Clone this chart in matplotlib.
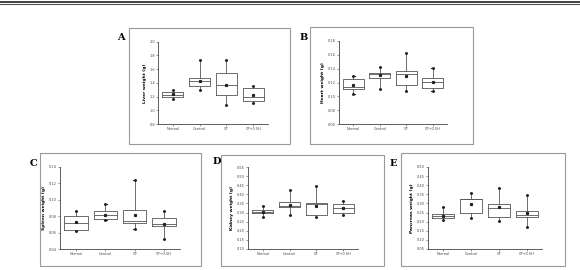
import matplotlib.pyplot as plt
from matplotlib.patches import Rectangle
from matplotlib.lines import Line2D
import numpy as np

W, H = 580, 270

groups = ['Normal', 'Control', 'CP', 'CP+0.5H']

# box stats per group: whislo, q1, med, q3, whishi, mean
liver = [[1.17, 1.19, 1.23, 1.26, 1.30, 1.24],
         [1.30, 1.36, 1.43, 1.47, 1.74, 1.43],
         [1.08, 1.22, 1.37, 1.54, 1.74, 1.37],
         [1.11, 1.13, 1.19, 1.32, 1.36, 1.23]]
heart = [[0.104, 0.110, 0.114, 0.125, 0.130, 0.117],
         [0.110, 0.127, 0.133, 0.134, 0.142, 0.131],
         [0.107, 0.116, 0.133, 0.137, 0.163, 0.129],
         [0.107, 0.112, 0.121, 0.127, 0.141, 0.121]]
spleen = [[0.062, 0.063, 0.072, 0.080, 0.086, 0.073],
          [0.075, 0.076, 0.081, 0.086, 0.095, 0.082],
          [0.065, 0.072, 0.074, 0.088, 0.124, 0.082],
          [0.052, 0.068, 0.070, 0.078, 0.086, 0.071]]
kidney = [[0.273, 0.295, 0.304, 0.313, 0.337, 0.304],
          [0.286, 0.328, 0.335, 0.359, 0.423, 0.341],
          [0.277, 0.286, 0.346, 0.354, 0.445, 0.335],
          [0.284, 0.295, 0.323, 0.346, 0.363, 0.323]]
pancreas = [[0.209, 0.220, 0.231, 0.242, 0.278, 0.231],
            [0.218, 0.247, 0.322, 0.327, 0.355, 0.295],
            [0.205, 0.223, 0.273, 0.295, 0.386, 0.282],
            [0.172, 0.227, 0.236, 0.260, 0.346, 0.245]]

liver_ticks = [0.8, 1.0, 1.2, 1.4, 1.6, 1.8, 2.0]
heart_ticks = [0.06, 0.08, 0.10, 0.12, 0.14, 0.16, 0.18]
spleen_ticks = [0.04, 0.06, 0.08, 0.10, 0.12, 0.14]
kidney_ticks = [0.10, 0.15, 0.20, 0.25, 0.30, 0.35, 0.40, 0.45, 0.50, 0.55]
pancreas_ticks = [0.05, 0.10, 0.15, 0.20, 0.25, 0.30, 0.35, 0.40, 0.45, 0.50]

# panel letter, data, ticks, ylabel, frame(px), axes(px: left, right, top, bottom), letter pos, tick fmt
panels = [
    ('A', liver, liver_ticks, 'Liver weight (g)', (129, 28, 290, 144), (158, 268, 41.7, 124), (117, 38), '%.1f'),
    ('B', heart, heart_ticks, 'Heart weight (g)', (310, 27, 473, 144), (339, 447, 41, 124), (300, 38), '%.2f'),
    ('C', spleen, spleen_ticks, 'Spleen weight (g)', (40, 153, 201, 266), (60, 180, 167, 249), (30, 163), '%.2f'),
    ('D', kidney, kidney_ticks, 'Kidney weight (g)', (221, 155, 384, 266), (248, 358, 167, 249), (213, 162), '%.2f'),
    ('E', pancreas, pancreas_ticks, 'Pancreas weight (g)', (401, 153, 565, 266), (428, 542, 167, 249), (390, 163), '%.2f'),
]

fig = plt.figure(figsize=(W / 100, H / 100), dpi=100)

# double rule at top
fig.add_artist(Line2D([0, 1], [1 - 1.5 / H, 1 - 1.5 / H], color='#222222', lw=1.2))
fig.add_artist(Line2D([0, 1], [1 - 3.8 / H, 1 - 3.8 / H], color='#555555', lw=0.8))

for letter, data, ticks, ylabel, frame, box, lpos, fmt in panels:
    x0, y0, x1, y1 = frame
    fig.add_artist(Rectangle((x0 / W, 1 - y1 / H), (x1 - x0) / W, (y1 - y0) / H,
                             transform=fig.transFigure, fill=False, ec='#9a9a9a', lw=0.8))
    fig.text(lpos[0] / W, 1 - lpos[1] / H, letter, fontsize=7, fontweight='bold',
             family='DejaVu Serif', ha='left', va='center')

    l, r, t, b = box
    ax = fig.add_axes([l / W, 1 - b / H, (r - l) / W, (b - t) / H])
    stats = []
    for name, s in zip(groups, data):
        stats.append(dict(label=name, whislo=s[0], q1=s[1], med=s[2], q3=s[3], whishi=s[4], mean=s[5]))
    ax.bxp(stats, positions=[1, 2, 3, 4], widths=0.8, showmeans=True, showfliers=False,
           boxprops=dict(color='#555555', lw=0.6),
           medianprops=dict(color='#555555', lw=0.6),
           whiskerprops=dict(color='#555555', lw=0.6),
           capprops=dict(color='#333333', lw=0.8),
           meanprops=dict(marker='s', markersize=1.3, markerfacecolor='#222222', markeredgecolor='#222222'),
           capwidths=0.08)
    # small dots at whisker ends
    for i, s in enumerate(data):
        ax.plot([i + 1, i + 1], [s[0], s[4]], ls='none', marker='o', ms=1.1, color='#222222')

    ax.set_xlim(0.45, 4.55)
    ax.set_ylim(ticks[0], ticks[-1])
    ax.set_yticks(ticks)
    ax.set_yticklabels([fmt % v for v in ticks])
    ax.set_xticks([1, 2, 3, 4])
    ax.set_xticklabels(groups)
    ax.tick_params(labelsize=2.5, length=1.2, width=0.4, pad=1, colors='#444444')
    for side in ['top', 'right']:
        ax.spines[side].set_visible(False)
    for side in ['left', 'bottom']:
        ax.spines[side].set_linewidth(0.6)
        ax.spines[side].set_color('#444444')
    ax.set_ylabel(ylabel, fontsize=3.2, fontweight='bold', labelpad=2)

fig.savefig('out.png', dpi=100)
